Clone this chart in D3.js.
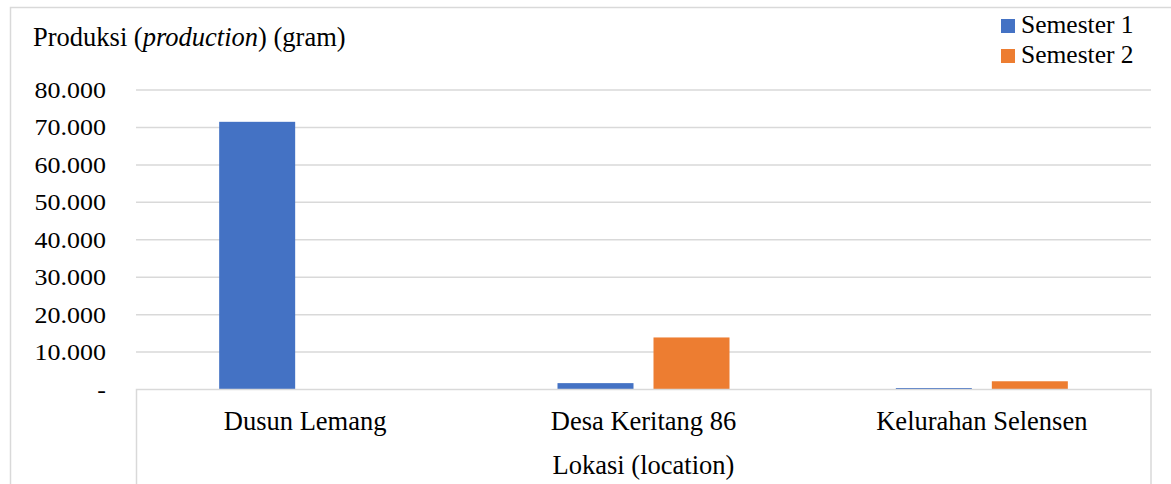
<!DOCTYPE html>
<html>
<head>
<meta charset="utf-8">
<script src="https://cdn.jsdelivr.net/npm/d3@7"></script>
<style>
  body { margin: 0; background: #fff; }
  svg text { font-family: "Times New Roman", "Liberation Serif", Tinos, Times, serif; }
</style>
</head>
<body>
<svg width="1171" height="484"></svg>
<script>
// data
var categories = ["Dusun Lemang", "Desa Keritang 86", "Kelurahan Selensen"];
var seriesNames = ["Semester 1", "Semester 2"];
var semester1 = [71500, 1700, 400];
var semester2 = [0, 13900, 2200];
var yTicks = [0, 10000, 20000, 30000, 40000, 50000, 60000, 70000, 80000];
var colors = ["#4472C4", "#ED7D31"];

var svg = d3.select("svg");
var gridColor = "#d9d9d9";

var plot = { left: 136, right: 1151, top: 90, bottom: 389.5 };

var x0 = d3.scaleBand().domain(categories).range([plot.left, plot.right]);
var yScale = d3.scaleLinear().domain([0, 80000]).range([plot.bottom, plot.top]);

var idLocale = d3.formatLocale({ decimal: ",", thousands: ".", grouping: [3], currency: ["", ""] });
var fmt = idLocale.format(",.0f");

// outer border (only left & top visible in the crop)
svg.append("rect")
  .attr("x", 10.5).attr("y", 7.5)
  .attr("width", 1200).attr("height", 520)
  .attr("fill", "none")
  .attr("stroke", gridColor)
  .attr("stroke-width", 1.5);

// title
var title = svg.append("text")
  .attr("x", 33).attr("y", 46)
  .style("font-size", "26.5px");
title.append("tspan").text("Produksi (");
title.append("tspan").style("font-style", "italic").text("production");
title.append("tspan").text(") (gram)");

// gridlines
svg.append("g")
  .selectAll("line")
  .data(yTicks.filter(function (d) { return d > 0; }))
  .enter()
  .append("line")
  .attr("x1", plot.left).attr("x2", plot.right)
  .attr("y1", function (d) { return yScale(d); })
  .attr("y2", function (d) { return yScale(d); })
  .attr("stroke", gridColor)
  .attr("stroke-width", 1.5);

// y tick labels
svg.append("g")
  .selectAll("text")
  .data(yTicks)
  .enter()
  .append("text")
  .attr("transform", function (d) {
    return "translate(106," + (yScale(d) + 8) + ") scale(1.13,1)";
  })
  .attr("text-anchor", "end")
  .style("font-size", "23px")
  .text(function (d) { return d === 0 ? "-" : fmt(d); });

// bars
var x1 = d3.scaleBand().domain(seriesNames).range([-86, 86]).paddingInner(0.2083);

var groups = svg.append("g")
  .selectAll("g")
  .data(categories)
  .enter()
  .append("g")
  .attr("transform", function (d) { return "translate(" + (x0(d) + x0.bandwidth() / 2) + ",0)"; });

groups.selectAll("rect")
  .data(function (d, i) {
    return [
      { key: seriesNames[0], value: semester1[i], c: colors[0] },
      { key: seriesNames[1], value: semester2[i], c: colors[1] }
    ];
  })
  .enter()
  .append("rect")
  .attr("x", function (d) { return x1(d.key); })
  .attr("width", x1.bandwidth())
  .attr("y", function (d) { return yScale(d.value); })
  .attr("height", function (d) { return yScale(0) - yScale(d.value); })
  .attr("fill", function (d) { return d.c; });

// category axis box
svg.append("path")
  .attr("d", "M" + (plot.left + 0.5) + ",500V" + plot.bottom + "H" + plot.right + "V500")
  .attr("fill", "none")
  .attr("stroke", gridColor)
  .attr("stroke-width", 1.5);

// category labels
svg.append("g")
  .selectAll("text")
  .data(categories)
  .enter()
  .append("text")
  .attr("x", function (d) { return x0(d) + x0.bandwidth() / 2; })
  .attr("y", 430)
  .attr("text-anchor", "middle")
  .style("font-size", "26.5px")
  .text(function (d) { return d; });

// x axis title
svg.append("text")
  .attr("x", (plot.left + plot.right) / 2)
  .attr("y", 474)
  .attr("text-anchor", "middle")
  .style("font-size", "26.5px")
  .text("Lokasi (location)");

// legend
var legend = svg.append("g")
  .selectAll("g")
  .data(seriesNames)
  .enter()
  .append("g")
  .attr("transform", function (d, i) { return "translate(1001," + (19 + i * 30) + ")"; });

legend.append("rect")
  .attr("width", 14).attr("height", 14)
  .attr("fill", function (d, i) { return colors[i]; });

legend.append("text")
  .attr("x", 20).attr("y", 14)
  .style("font-size", "25.5px")
  .text(function (d) { return d; });
</script>
</body>
</html>
